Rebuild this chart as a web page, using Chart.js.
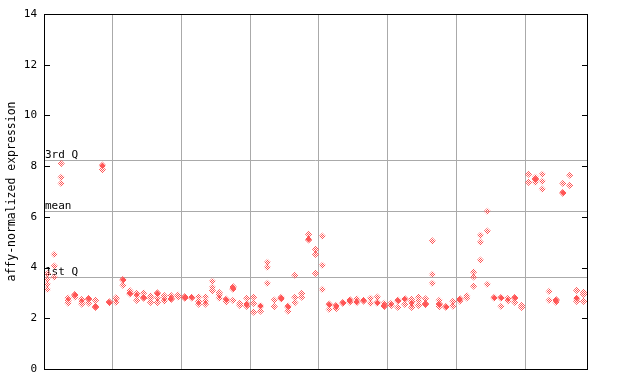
<!DOCTYPE html>
<html><head><meta charset="utf-8">
<script src="https://cdn.jsdelivr.net/npm/chart.js@4/dist/chart.umd.min.js"></script>
<style>html,body{margin:0;padding:0;background:#fff}#wrap{width:640px;height:384px}</style>
</head><body><div id="wrap"><canvas id="c" width="640" height="384"></canvas></div>
<script>
const sampleValues = [
  [3.75, 3.54, 3.34, 3.14], [4.52, 4.06, 3.62], [8.1, 7.56, 7.32], [2.8, 2.7, 2.6], [2.94, 2.9, 2.84],
  [2.75, 2.65, 2.56], [2.79, 2.75, 2.6], [2.71, 2.47, 2.43], [8.04, 8.0, 7.86], [2.65, 2.61],
  [2.82, 2.78, 2.63], [3.54, 3.5, 3.3], [3.09, 3.0, 2.96], [2.98, 2.89, 2.71], [3.0, 2.83, 2.79],
  [2.88, 2.8, 2.63], [3.0, 2.96, 2.8, 2.62], [2.89, 2.79, 2.68], [2.89, 2.78, 2.74], [2.91, 2.84],
  [2.86, 2.82, 2.79], [2.84, 2.8], [2.85, 2.67, 2.56], [2.85, 2.69, 2.56], [3.46, 3.22, 3.09],
  [3.01, 2.92, 2.79], [2.76, 2.72, 2.65], [3.25, 3.19, 3.15, 2.71], [2.59, 2.51], [2.79, 2.58, 2.54, 2.47],
  [2.83, 2.59, 2.24], [2.5, 2.46, 2.28], [4.21, 4.01, 3.38], [2.72, 2.46], [2.83, 2.79, 2.76],
  [2.48, 2.44, 2.28], [3.7, 2.83, 2.62], [2.98, 2.83], [5.31, 5.13, 5.09], [4.72, 4.52, 3.77],
  [5.24, 4.09, 3.14], [2.56, 2.52, 2.35], [2.51, 2.47, 2.38], [2.63, 2.59], [2.74, 2.7, 2.64],
  [2.77, 2.66, 2.62], [2.72, 2.68], [2.79, 2.59], [2.84, 2.63, 2.59], [2.59, 2.5, 2.46],
  [2.59, 2.5], [2.72, 2.68, 2.43], [2.78, 2.74, 2.55], [2.76, 2.67, 2.58, 2.43], [2.84, 2.69, 2.51],
  [2.77, 2.58, 2.54], [5.05, 3.73, 3.38], [2.71, 2.57, 2.53, 2.46], [2.47, 2.43], [2.67, 2.48],
  [2.78, 2.74, 2.68], [2.89, 2.8], [3.83, 3.63, 3.27], [5.27, 5.0, 4.29], [6.22, 5.44, 3.34],
  [2.83, 2.79], [2.83, 2.79, 2.47], [2.79, 2.69], [2.83, 2.79, 2.63], [2.51, 2.43],
  [7.68, 7.36], [7.56, 7.51, 7.47, 7.36], [7.68, 7.4, 7.09], [3.06, 2.71], [2.74, 2.7, 2.63],
  [7.32, 6.97, 6.93], [7.64, 7.24], [3.1, 2.81, 2.77, 2.67], [3.02, 2.94, 2.67]
];
const groupBoundaries = [9.5, 19.5, 29.5, 39.5, 49.5, 59.5, 69.5];
const yTickValues = [0, 2, 4, 6, 8, 10, 12, 14];
const refValues = [8.23, 6.23, 3.63];
const refLabels = ['3rd Q', 'mean', '1st Q'];
const yTitle = 'affy-normalized expression';

const points = [];
sampleValues.forEach((vals, i) => vals.forEach(v => points.push({x: i, y: v})));

function makePattern(phase) {
  const pc = document.createElement('canvas'); pc.width = 2; pc.height = 2;
  const p = pc.getContext('2d');
  p.fillStyle = '#ff5555';
  p.fillRect(phase, 0, 1, 1); p.fillRect(1 - phase, 1, 1, 1);
  return pc;
}
const ctx = document.getElementById('c').getContext('2d');
const patterns = [ctx.createPattern(makePattern(0), 'repeat'), ctx.createPattern(makePattern(1), 'repeat')];

const FONT = "'DejaVu Sans Mono', monospace";

const decor = {
  id: 'decor',
  beforeDatasetsDraw(chart) {
    const {ctx, chartArea: a, scales: {y}} = chart;
    ctx.save();
    ctx.strokeStyle = '#aaaaaa'; ctx.lineWidth = 1;
    ctx.fillStyle = '#000'; ctx.font = '11px ' + FONT;
    ctx.textBaseline = 'bottom'; ctx.textAlign = 'left';
    refValues.forEach((v, k) => {
      const py = Math.round(y.getPixelForValue(v)) + 0.5;
      ctx.beginPath(); ctx.moveTo(a.left, py); ctx.lineTo(a.right, py); ctx.stroke();
      ctx.fillText(refLabels[k], a.left + 1, py);
    });
    ctx.restore();
  },
  afterDraw(chart) {
    const {ctx, chartArea: a, scales: {y}} = chart;
    ctx.save();
    ctx.strokeStyle = '#000'; ctx.lineWidth = 1;
    ctx.strokeRect(a.left + 0.5, a.top + 0.5, a.right - a.left, a.bottom - a.top);
    ctx.beginPath();
    yTickValues.forEach(v => {
      const py = Math.round(y.getPixelForValue(v)) + 0.5;
      ctx.moveTo(a.left, py); ctx.lineTo(a.left + 6, py);
      ctx.moveTo(a.right - 5, py); ctx.lineTo(a.right + 1, py);
    });
    ctx.stroke();
    ctx.restore();
  }
};

new Chart(ctx, {
  type: 'scatter',
  data: {datasets: [{
    data: points,
    pointStyle: 'rectRot',
    pointRadius: 3.6,
    pointHoverRadius: 3.6,
    backgroundColor: (c) => {
      const ch = c.chart;
      if (!ch.scales || !ch.scales.y || !c.parsed) return patterns[0];
      const px = Math.round(ch.scales.x.getPixelForValue(c.parsed.x));
      const py = Math.round(ch.scales.y.getPixelForValue(c.parsed.y));
      return patterns[((px + py) % 2 + 2) % 2];
    },
    borderWidth: 0,
    borderColor: 'rgba(0,0,0,0)'
  }]},
  options: {
    responsive: false, animation: false, devicePixelRatio: 1,
    layout: {padding: {left: 0, top: 14, right: 53, bottom: 15}},
    plugins: {legend: {display: false}, tooltip: {enabled: false}},
    scales: {
      x: {
        type: 'linear', min: -0.5, max: 78.5,
        afterBuildTicks: s => { s.ticks = groupBoundaries.map(v => ({value: v})); },
        ticks: {display: false},
        grid: {color: '#aaaaaa', lineWidth: 1, drawTicks: false},
        border: {display: false},
        afterFit: s => { s.height = 0; }
      },
      y: {
        min: 0, max: 14,
        afterBuildTicks: s => { s.ticks = yTickValues.map(v => ({value: v})); },
        ticks: {color: '#000', font: {family: FONT, size: 11}, padding: 7},
        grid: {display: false, drawTicks: false},
        border: {display: false},
        title: {display: true, text: yTitle, color: '#000', font: {family: FONT, size: 11.5}, padding: {top: 5, bottom: 0}},
        afterFit: s => { s.width = 44; }
      }
    }
  },
  plugins: [decor]
});
</script></body></html>
